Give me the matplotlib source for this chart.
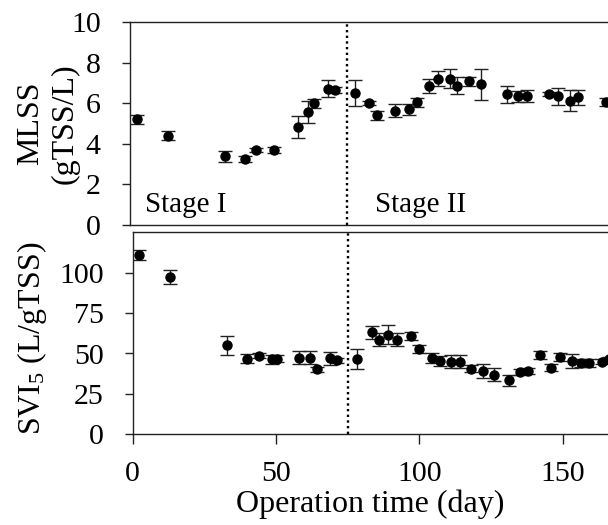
import numpy as np
import matplotlib
matplotlib.use("Agg")
import matplotlib.pyplot as plt

plt.rcParams['font.family'] = ['Liberation Serif', 'DejaVu Serif']
plt.rcParams['mathtext.fontset'] = 'custom'
plt.rcParams['mathtext.rm'] = 'Liberation Serif'
plt.rcParams['mathtext.it'] = 'Liberation Serif:italic'
plt.rcParams['font.size'] = 21.5

# MLSS (gTSS/L) vs operation time (day)
mlss_day = [2.0, 12.7, 32.6, 39.4, 43.5, 49.6, 57.9, 61.5, 63.6, 68.6, 70.9,
            77.8, 82.8, 85.5, 91.8, 96.6, 99.7, 103.7, 106.9, 110.9, 113.4,
            117.7, 121.8, 130.8, 134.9, 138.0, 145.5, 148.7, 152.8, 155.8, 165.4]
mlss_val = [5.2, 4.4, 3.38, 3.23, 3.68, 3.68, 4.82, 5.56, 6.0, 6.72, 6.63,
            6.5, 6.0, 5.41, 5.64, 5.71, 6.05, 6.85, 7.21, 7.21, 6.87,
            7.08, 6.93, 6.44, 6.34, 6.34, 6.44, 6.34, 6.12, 6.29, 6.05]
mlss_err = [0.22, 0.22, 0.26, 0.15, 0.1, 0.15, 0.55, 0.55, 0.23, 0.43, 0.15,
            0.63, 0.1, 0.22, 0.3, 0.27, 0.23, 0.33, 0.36, 0.46, 0.44,
            0.22, 0.75, 0.41, 0.26, 0.3, 0.1, 0.42, 0.51, 0.37, 0.2]

# SVI5 (L/gTSS) vs operation time (day)
svi_day = [2.3, 13.0, 32.8, 40.0, 44.1, 48.5, 50.2, 57.9, 62.0, 64.2, 68.8,
           71.2, 78.4, 83.4, 86.0, 89.2, 92.1, 97.1, 100.0, 104.3, 107.2,
           111.0, 114.0, 118.0, 122.1, 126.1, 131.4, 135.1, 138.0, 142.1,
           145.8, 149.1, 153.4, 156.3, 159.3, 163.6, 166.0]
svi_val = [111.0, 97.4, 55.0, 46.9, 48.6, 46.5, 46.9, 47.5, 47.5, 40.3, 47.1,
           45.7, 46.5, 63.0, 58.5, 61.6, 58.5, 61.0, 52.9, 47.5, 45.5,
           45.0, 45.0, 40.7, 39.3, 36.8, 33.3, 38.5, 39.3, 48.8,
           41.3, 47.8, 45.5, 44.0, 44.0, 45.0, 46.5]
svi_err = [3.3, 4.5, 5.8, 2.7, 1.5, 2.8, 2.0, 4.2, 4.2, 1.5, 4.1,
           1.5, 6.2, 4.3, 4.0, 5.9, 4.0, 2.6, 2.6, 3.1, 3.0,
           4.1, 4.0, 2.0, 4.3, 4.1, 3.6, 2.0, 2.0, 2.5,
           2.0, 2.6, 4.4, 2.6, 2.6, 1.5, 1.5]

stage_change = 75
label_size = 23

fig = plt.figure(figsize=(6.08, 5.25), dpi=100)
ax1 = fig.add_axes([130/608, 1 - 225/525, 478/608, 203/525])
ax2 = fig.add_axes([132.7/608, 1 - 434.3/525, 475.3/608, 202/525])

dot_style = dict(fmt='o', color='black', ecolor='#222222', markersize=6.5,
                 elinewidth=1.0, capsize=4.7, capthick=1.0)

ax1.errorbar(mlss_day, mlss_val, yerr=mlss_err, **dot_style)
ax2.errorbar(svi_day, svi_val, yerr=svi_err, **dot_style)

for ax in (ax1, ax2):
    ax.axvline(stage_change, color='black', lw=1.7, dashes=(1, 1.4))
    ax.spines['right'].set_visible(False)
    for s in ('left', 'top', 'bottom'):
        ax.spines[s].set_linewidth(1.0)
        ax.spines[s].set_color('#222222')
    ax.tick_params(axis='y', direction='out', length=6, width=1.0, pad=15,
                   color='#222222')

# top panel
ax1.set_xlim(-0.6, 166.2)
ax1.set_ylim(0, 10)
ax1.set_yticks([0, 2, 4, 6, 8, 10])
ax1.set_xticks([])
ax1.set_ylabel("MLSS\n(gTSS/L)", va='center', linespacing=1.25, fontsize=label_size)
ax1.yaxis.set_label_coords(-0.172, 0.5)
ax1.text(4.6, 0.64, "Stage I", ha='left', va='baseline', fontsize=21)
ax1.text(84.9, 0.64, "Stage II", ha='left', va='baseline', fontsize=21)

# bottom panel
ax2.set_xlim(0, 165.8)
ax2.set_ylim(0, 125)
ax2.set_yticks([0, 25, 50, 75, 100])
ax2.set_xticks([0, 50, 100, 150])
ax2.tick_params(axis='x', direction='out', length=7, width=1.0, pad=12,
                color='#222222')
ax2.set_xlabel("Operation time (day)", labelpad=2, fontsize=label_size)
ax2.set_ylabel("SVI$_5$ (L/gTSS)", va='center', fontsize=label_size)
ax2.yaxis.set_label_coords(-0.212, 0.477)

fig.savefig("out.png", dpi=100)
